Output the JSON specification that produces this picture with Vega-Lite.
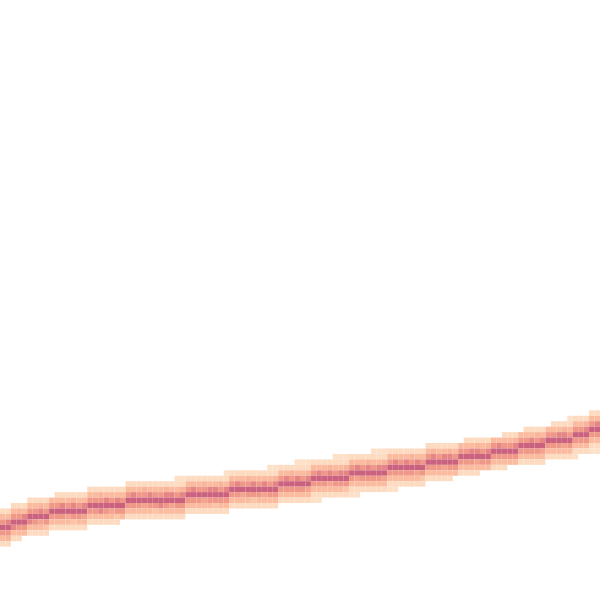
{
  "$schema": "https://vega.github.io/schema/vega-lite/v6.json",
  "width": 600,
  "height": 600,
  "autosize": {"type": "fit", "contains": "padding"},
  "padding": 0,
  "background": "white",
  "config": {"view": {"stroke": null}},
  "data": {"values": [
    {"x":0,"y":[93,94,95,96,97,98,99],"v":[1.3,3,6,10,6,3,1.3]},
    {"x":1,"y":[93,94,95,96,97,98,99],"v":[1.3,3,7,9,6,3.5,1.3]},
    {"x":2,"y":[92,93,94,95,96,97,98],"v":[1.3,3,6,9,7,3,1.3]},
    {"x":3,"y":[92,93,94,95,96,97,98],"v":[1.3,3.5,6,10,6,3,1.3]},
    {"x":4,"y":[92,93,94,95,96,97],"v":[1.3,3,7,10,6,3]},
    {"x":5,"y":[91,92,93,94,95,96,97],"v":[1.3,3,6,9,7,3,1.3]},
    {"x":6,"y":[91,92,93,94,95,96,97],"v":[1.3,3,6,10,6,3,1.3]},
    {"x":7,"y":[91,92,93,94,95,96,97],"v":[1.3,3.5,7,10,5,3,1.3]},
    {"x":8,"y":[91,92,93,94,95,96,97],"v":[1.3,3,6,9,6,2.5,1.3]},
    {"x":9,"y":[91,92,93,94,95,96],"v":[3,6,10,6,3,1.3]},
    {"x":10,"y":[90,91,92,93,94,95,96],"v":[1.3,3,6,10,6,3,1.3]},
    {"x":11,"y":[90,91,92,93,94,95,96],"v":[1.3,3,7,9,6,3,1.3]},
    {"x":12,"y":[90,91,92,93,94,95,96],"v":[1.3,3,6,10,5,3,1.3]},
    {"x":13,"y":[90,91,92,93,94,95,96],"v":[1.3,3.5,7,10,6,2.5,1.3]},
    {"x":14,"y":[90,91,92,93,94,95,96],"v":[1.3,3,6,9,6,3,1.3]},
    {"x":15,"y":[90,91,92,93,94,95,96],"v":[1.3,3,7,10,5,3,1.3]},
    {"x":16,"y":[89,90,91,92,93,94,95],"v":[1.3,3,6,10,6,3,1.3]},
    {"x":17,"y":[89,90,91,92,93,94,95],"v":[1.3,3,6,9,6,3,1.3]},
    {"x":18,"y":[89,90,91,92,93,94,95],"v":[1.3,3.5,6,10,7,3,1.3]},
    {"x":19,"y":[89,90,91,92,93,94,95],"v":[1.3,3,7,10,6,3,1.3]},
    {"x":20,"y":[89,90,91,92,93,94,95],"v":[1.3,3,6,9,5,3,1.3]},
    {"x":21,"y":[89,90,91,92,93,94,95],"v":[1.3,3,7,10,6,2.5,1.3]},
    {"x":22,"y":[89,90,91,92,93,94],"v":[1.3,3,6,10,6,3]},
    {"x":23,"y":[88,89,90,91,92,93,94],"v":[1.3,3,6,10,6,3,1.3]},
    {"x":24,"y":[88,89,90,91,92,93,94],"v":[1.3,3,7,9,6,3,1.3]},
    {"x":25,"y":[88,89,90,91,92,93,94],"v":[1.3,3,6,10,6,3,1.3]},
    {"x":26,"y":[88,89,90,91,92,93,94],"v":[1.3,3.5,6,10,5,3,1.3]},
    {"x":27,"y":[88,89,90,91,92,93,94],"v":[1.3,3,7,9,6,3,1.3]},
    {"x":28,"y":[88,89,90,91,92,93,94],"v":[1.3,3,6,10,6,2.5,1.3]},
    {"x":29,"y":[88,89,90,91,92,93,94],"v":[1.3,3,6,10,7,3,1.3]},
    {"x":30,"y":[88,89,90,91,92,93,94],"v":[1.3,3.5,7,9,6,3,1.3]},
    {"x":31,"y":[88,89,90,91,92,93,94],"v":[1.3,3,7,10,5,3,1.3]},
    {"x":32,"y":[87,88,89,90,91,92,93,94],"v":[0.8,1.3,3,6,10,6,3,1.3]},
    {"x":33,"y":[87,88,89,90,91,92,93,94],"v":[0.8,1.3,3.5,7,9,6,3,1.3]},
    {"x":34,"y":[87,88,89,90,91,92,93],"v":[1.3,3,6,10,6,3,1.3]},
    {"x":35,"y":[87,88,89,90,91,92,93],"v":[1.3,3,7,9,6,3,1.3]},
    {"x":36,"y":[87,88,89,90,91,92,93],"v":[1.3,3,6,10,6,3,1.3]},
    {"x":37,"y":[87,88,89,90,91,92,93],"v":[1.3,3.5,6,10,5,3,1.3]},
    {"x":38,"y":[87,88,89,90,91,92,93],"v":[1.3,3,7,9,6,3,1.3]},
    {"x":39,"y":[87,88,89,90,91,92,93],"v":[1.3,3,7,10,6,2.5,1.3]},
    {"x":40,"y":[87,88,89,90,91,92,93],"v":[1.3,3.5,6,10,6,3,1.3]},
    {"x":41,"y":[86,87,88,89,90,91,92,93],"v":[0.8,1.3,3,7,10,6,3,1.3]},
    {"x":42,"y":[86,87,88,89,90,91,92],"v":[1.3,3,6,10,6,3,1.3]},
    {"x":43,"y":[86,87,88,89,90,91,92],"v":[1.3,3,7,9,6,3,1.3]},
    {"x":44,"y":[86,87,88,89,90,91,92],"v":[1.3,3,6,10,5,3,1.3]},
    {"x":45,"y":[86,87,88,89,90,91,92],"v":[1.3,3.5,6,10,6,3,1.3]},
    {"x":46,"y":[86,87,88,89,90,91,92],"v":[1.3,3,7,9,6,2.5,1.3]},
    {"x":47,"y":[86,87,88,89,90,91,92],"v":[1.3,3,6,10,6,3,1.3]},
    {"x":48,"y":[86,87,88,89,90,91,92],"v":[1.3,3,7,10,5,3,1.3]},
    {"x":49,"y":[85,86,87,88,89,90,91,92],"v":[0.8,1.3,3,6,10,6,3,1.3]},
    {"x":50,"y":[85,86,87,88,89,90,91,92],"v":[0.8,1.3,3.5,7,9,6,3,1.3]},
    {"x":51,"y":[85,86,87,88,89,90,91],"v":[1.3,3,6,10,6,3,1.3]},
    {"x":52,"y":[85,86,87,88,89,90,91],"v":[1.3,3,7,9,6,3,1.3]},
    {"x":53,"y":[85,86,87,88,89,90,91],"v":[1.3,3.5,6,10,6,3,1.3]},
    {"x":54,"y":[84,85,86,87,88,89,90,91],"v":[0.8,1.3,3,7,10,6,3,1.3]},
    {"x":55,"y":[84,85,86,87,88,89,90,91],"v":[0.8,1.3,3,6,9,6,3,1.3]},
    {"x":56,"y":[84,85,86,87,88,89,90,91],"v":[0.8,1.3,3.5,7,10,5,3,1.3]},
    {"x":57,"y":[84,85,86,87,88,89,90,91],"v":[1.3,3,6,10,6,3,1.3,0.8]},
    {"x":58,"y":[84,85,86,87,88,89,90,91],"v":[1.3,3,7,9,6,3,1.3,0.8]},
    {"x":59,"y":[84,85,86,87,88,89,90],"v":[1.3,3,6,10,6,3,1.3]},
    {"x":60,"y":[84,85,86,87,88,89,90],"v":[1.3,3.5,7,10,5,3,1.3]},
    {"x":61,"y":[83,84,85,86,87,88,89,90],"v":[0.8,1.3,3,6,10,6,3,1.3]},
    {"x":62,"y":[83,84,85,86,87,88,89,90],"v":[0.8,1.3,3,7,9,6,3,1.3]},
    {"x":63,"y":[83,84,85,86,87,88,89,90],"v":[0.8,1.3,3.5,7,10,6,2.5,1.3]},
    {"x":64,"y":[83,84,85,86,87,88,89,90],"v":[1.3,3,6,10,6,3,1.3,0.8]},
    {"x":65,"y":[83,84,85,86,87,88,89,90],"v":[1.3,3,7,9,5,3,1.3,0.8]},
    {"x":66,"y":[83,84,85,86,87,88,89],"v":[1.3,3,6,10,6,3,1.3]},
    {"x":67,"y":[83,84,85,86,87,88,89],"v":[1.3,3.5,7,10,6,3,1.3]},
    {"x":68,"y":[82,83,84,85,86,87,88,89],"v":[0.8,1.3,3,6,10,6,3,1.3]},
    {"x":69,"y":[82,83,84,85,86,87,88,89],"v":[0.8,1.3,3,7,9,6,3,1.3]},
    {"x":70,"y":[82,83,84,85,86,87,88,89],"v":[0.8,1.3,3.5,7,10,5,3,1.3]},
    {"x":71,"y":[82,83,84,85,86,87,88,89],"v":[1.3,3,6,10,6,3,1.3,0.8]},
    {"x":72,"y":[82,83,84,85,86,87,88,89],"v":[1.3,3,7,9,6,3,1.3,0.8]},
    {"x":73,"y":[82,83,84,85,86,87,88],"v":[1.3,3,6,10,6,3,1.3]},
    {"x":74,"y":[82,83,84,85,86,87,88],"v":[1.3,3,7,10,6,3,1.3]},
    {"x":75,"y":[82,83,84,85,86,87,88],"v":[1.3,3.5,6,9,6,3,1.3]},
    {"x":76,"y":[82,83,84,85,86,87,88],"v":[1.3,3,7,10,5,3,1.3]},
    {"x":77,"y":[82,83,84,85,86,87,88],"v":[1.3,3,6,10,6,2.5,1.3]},
    {"x":78,"y":[81,82,83,84,85,86,87],"v":[1.3,3,6,10,6,3,1.3]},
    {"x":79,"y":[81,82,83,84,85,86,87],"v":[1.3,3.5,7,9,6,3,1.3]},
    {"x":80,"y":[81,82,83,84,85,86,87],"v":[1.3,3,6,10,6,3,1.3]},
    {"x":81,"y":[81,82,83,84,85,86,87],"v":[1.3,3,7,10,5,3,1.3]},
    {"x":82,"y":[81,82,83,84,85,86,87],"v":[1.3,3.5,7,9,6,3,1.3]},
    {"x":83,"y":[81,82,83,84,85,86],"v":[1.3,3,6,10,6,3]},
    {"x":84,"y":[81,82,83,84,85,86],"v":[3,6,10,6,3,1.3]},
    {"x":85,"y":[80,81,82,83,84,85,86],"v":[1.3,3,6,10,6,3,1.3]},
    {"x":86,"y":[80,81,82,83,84,85,86],"v":[1.3,3,7,9,6,3,1.3]},
    {"x":87,"y":[80,81,82,83,84,85,86],"v":[1.3,3.5,7,10,5,3,1.3]},
    {"x":88,"y":[80,81,82,83,84,85],"v":[1.3,3,6,10,6,3]},
    {"x":89,"y":[80,81,82,83,84,85],"v":[1.3,3.5,7,9,6,3]},
    {"x":90,"y":[80,81,82,83,84,85],"v":[3,6,10,6,3,1.3]},
    {"x":91,"y":[80,81,82,83,84,85],"v":[3,7,9,6,3,1.3]},
    {"x":92,"y":[79,80,81,82,83,84,85],"v":[1.3,3,6,10,6,3,1.3]},
    {"x":93,"y":[79,80,81,82,83,84],"v":[1.3,3,6,10,6,3]},
    {"x":94,"y":[79,80,81,82,83,84],"v":[1.3,3.5,7,9,6,3]},
    {"x":95,"y":[79,80,81,82,83,84],"v":[3,6,10,6,3,1.3]},
    {"x":96,"y":[78,79,80,81,82,83,84],"v":[1.3,3,6,10,6,3,1.3]},
    {"x":97,"y":[78,79,80,81,82,83,84],"v":[1.3,3,7,9,6,3,1.3]},
    {"x":98,"y":[78,79,80,81,82,83,84],"v":[1.3,3.5,6,10,6,3,1.3]},
    {"x":99,"y":[78,79,80,81,82,83,84],"v":[1.3,3,7,10,5,3,1.3]},
    {"x":100,"y":[78,79,80,81,82,83],"v":[3,6,10,6,3,1.3]},
    {"x":101,"y":[77,78,79,80,81,82,83],"v":[1.3,3,6,10,6,3,1.3]},
    {"x":102,"y":[77,78,79,80,81,82,83],"v":[1.3,3,7,9,6,3,1.3]},
    {"x":103,"y":[77,78,79,80,81,82,83],"v":[1.3,3.5,7,10,5,3,1.3]},
    {"x":104,"y":[76,77,78,79,80,81,82,83],"v":[0.8,1.3,3,6,10,6,3,1.3]},
    {"x":105,"y":[76,77,78,79,80,81,82,83],"v":[1.3,3,6,10,6,3,1.3,0.8]},
    {"x":106,"y":[76,77,78,79,80,81,82],"v":[1.3,3,6,10,6,3,1.3]},
    {"x":107,"y":[76,77,78,79,80,81,82],"v":[1.3,3.5,7,9,6,3,1.3]},
    {"x":108,"y":[75,76,77,78,79,80,81,82],"v":[1.3,3,6,10,6,3,1.3,0.8]},
    {"x":109,"y":[75,76,77,78,79,80,81,82],"v":[1.3,3,7,9,6,3,1.3,0.8]}
  ]},
  "transform": [
    {"flatten": ["y", "v"]},
    {"bin": {"step": 1, "extent": [0, 110]}, "field": "x", "as": ["x0", "x1"]},
    {"bin": {"step": 1, "extent": [0, 110]}, "field": "y", "as": ["y0", "y1"]}
  ],
  "mark": {"type": "rect", "binSpacing": 0, "stroke": null, "strokeWidth": 0},
  "encoding": {
    "x": {"field": "x0", "type": "quantitative", "scale": {"domain": [0, 110], "nice": false, "zero": false}, "axis": null},
    "x2": {"field": "x1"},
    "y": {"field": "y0", "type": "quantitative", "scale": {"domain": [-0.22, 109.78], "reverse": true, "nice": false, "zero": false}, "axis": null},
    "y2": {"field": "y1"},
    "color": {"field": "v", "type": "quantitative", "legend": null, "scale": {"domain": [1, 3, 6, 9], "range": ["#fde0c8", "#fabb9f", "#f09888", "#c9617f"], "clamp": true}}
  }
}
